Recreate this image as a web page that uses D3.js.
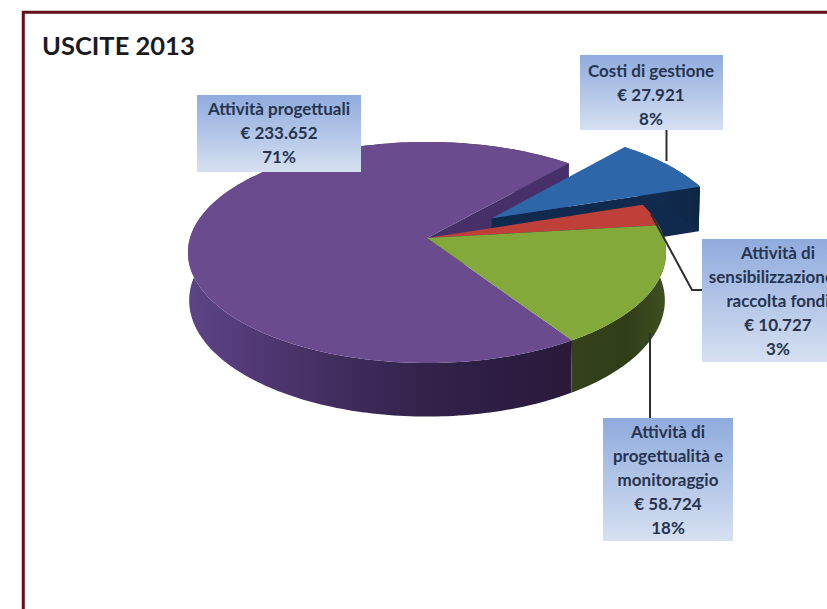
<!DOCTYPE html>
<html>
<head>
<meta charset="utf-8">
<script src="https://cdnjs.cloudflare.com/ajax/libs/d3/7.9.0/d3.min.js"></script>
<style>
html, body { margin: 0; padding: 0; background: #fff; overflow: hidden; }
svg { display: block; }
</style>
</head>
<body>
<div id="chart"></div>
<script>
// Expenses for 2013, clockwise from the large slice
const categories = ["Attività progettuali", "Costi di gestione", "Attività di sensibilizzazione e raccolta fondi", "Attività di progettualità e monitoraggio"];
const amounts = [233652, 27921, 10727, 58724];
const amountLabels = ["€ 233.652", "€ 27.921", "€ 10.727", "€ 58.724"];
const percentLabels = ["71%", "8%", "3%", "18%"];
const labelLines = [
  ["Attività progettuali"],
  ["Costi di gestione"],
  ["Attività di", "sensibilizzazione e", "raccolta fondi"],
  ["Attività di", "progettualità e", "monitoraggio"]
];
const explosion = [0, 0.336, 0, 0];

const faceColors = ["#6a4c8e", "#2d66a9", "#bf3f39", "#84a93b"];
const cutColors = ["#47306a", "#0f2a4c", "#6b1f1c", "#33421a"];

const width = 827, height = 609;
const svg = d3.select("#chart").append("svg").attr("width", width).attr("height", height);
const defs = svg.append("defs");

// Perspective model of the disc: u points right, v towards the viewer
const origin = { x: 427, y: 238 };
const persp = { a: 108.6, b: 237, k: -0.131, drop: 0.005, depth: 47.5 };
function project(u, v, lower) {
  const w = 1 + persp.k * v + (lower ? persp.drop : 0);
  return [origin.x + persp.b * u / w, origin.y + (persp.a * v + (lower ? persp.depth : 0)) / w];
}

// Slice angles: d3 measures from north, clockwise
const pie = d3.pie().sort(null).startAngle(147 * Math.PI / 180).endAngle((147 + 360) * Math.PI / 180);
const slices = pie(amounts).map((s, i) => {
  const mid = (s.startAngle + s.endAngle) / 2;
  return {
    i, start: s.startAngle, end: s.endAngle,
    ox: explosion[i] * Math.sin(mid),
    oy: -explosion[i] * Math.cos(mid)
  };
});

function rim(s, a, lower) {
  return project(s.ox + Math.sin(a), s.oy - Math.cos(a), lower);
}
function arcAngles(from, to) {
  const n = Math.max(2, Math.ceil(Math.abs(to - from) / 0.02));
  return d3.range(n + 1).map(j => from + (to - from) * j / n);
}
const line = d3.line();

function topFace(s) {
  const pts = [project(s.ox, s.oy, false)].concat(arcAngles(s.start, s.end).map(a => rim(s, a, false)));
  return line(pts) + "Z";
}
function outerWall(s, from, to) {
  const angles = arcAngles(from, to);
  const pts = angles.map(a => rim(s, a, false)).concat(angles.slice().reverse().map(a => rim(s, a, true)));
  return line(pts) + "Z";
}
function cutWall(s, a) {
  return line([
    project(s.ox, s.oy, false), rim(s, a, false),
    rim(s, a, true), project(s.ox, s.oy, true)
  ]) + "Z";
}

// Side shading
function hGradient(id, x1, x2, stops) {
  const g = defs.append("linearGradient").attr("id", id).attr("gradientUnits", "userSpaceOnUse")
    .attr("x1", x1).attr("x2", x2).attr("y1", 0).attr("y2", 0);
  stops.forEach(s => g.append("stop").attr("offset", s[0]).attr("stop-color", s[1]));
}
hGradient("wall0", 187, 573, [[0, "#5d4485"], [0.12, "#553c7b"], [0.3, "#483267"], [0.45, "#3d2a59"], [0.62, "#33234b"], [0.8, "#2c1d42"], [1, "#291a3b"]]);
hGradient("wall1", 620, 700, [[0, "#143054"], [1, "#0e2645"]]);
hGradient("wall3", 573, 665, [[0, "#34421b"], [0.6, "#303e18"], [1, "#3f5020"]]);

const lg = defs.append("linearGradient").attr("id", "labelFill").attr("x1", 0).attr("x2", 0).attr("y1", 0).attr("y2", 1);
lg.append("stop").attr("offset", 0).attr("stop-color", "#8fabdd");
lg.append("stop").attr("offset", 1).attr("stop-color", "#d6e0f1");

// Frame: only the top and left rules are in view
svg.append("path").attr("d", `M23.3,${height}V12.3H${width}`)
  .attr("fill", "none").attr("stroke", "#640f16").attr("stroke-width", 3);

svg.append("text").attr("x", 42).attr("y", 55)
  .attr("font-family", "Lato, 'Open Sans', sans-serif").attr("font-weight", 700)
  .attr("font-size", 25.5).attr("fill", "#1b1b1f").text("USCITE 2013");

// Painter's order: back walls first, then faces from back to front
const [purple, blue, red, green] = slices;
const pie3d = svg.append("g");
pie3d.append("path").attr("d", outerWall(purple, purple.start, purple.end)).attr("fill", "url(#wall0)");
pie3d.append("path").attr("d", cutWall(purple, purple.end)).attr("fill", cutColors[0]);
pie3d.append("path").attr("d", topFace(purple)).attr("fill", faceColors[0]);
pie3d.append("path").attr("d", cutWall(blue, blue.end)).attr("fill", cutColors[1]);
pie3d.append("path").attr("d", outerWall(blue, blue.start, blue.end)).attr("fill", "url(#wall1)");
pie3d.append("path").attr("d", topFace(blue)).attr("fill", faceColors[1]);
pie3d.append("path").attr("d", outerWall(red, red.start, red.end)).attr("fill", cutColors[2]);
pie3d.append("path").attr("d", outerWall(green, green.start, green.end)).attr("fill", "url(#wall3)");
pie3d.append("path").attr("d", topFace(red)).attr("fill", faceColors[2]);
pie3d.append("path").attr("d", topFace(green)).attr("fill", faceColors[3]);

// Leader lines
const leaders = [
  null,
  [[666.5, 130], [666.5, 161]],
  [[651, 214], [692, 290], [703, 290]],
  [[650, 333], [650, 418]]
];
leaders.forEach(pts => {
  if (pts) svg.append("path").attr("d", d3.line()(pts)).attr("fill", "none")
    .attr("stroke", "#2e2e2e").attr("stroke-width", 2);
});

// Callout boxes
const boxes = [
  { x: 197, y: 95, w: 164, h: 77, cx: 279, first: 115 },
  { x: 580, y: 55, w: 143, h: 75, cx: 651, first: 77 },
  { x: 702, y: 239, w: 152, h: 123, cx: 778, first: 259 },
  { x: 603, y: 418, w: 130, h: 123, cx: 668, first: 438 }
];
boxes.forEach((b, i) => {
  svg.append("rect").attr("x", b.x).attr("y", b.y).attr("width", b.w).attr("height", b.h)
    .attr("fill", "url(#labelFill)");
  const rows = labelLines[i].concat([amountLabels[i], percentLabels[i]]);
  svg.append("text").attr("font-family", "Lato, 'Open Sans', sans-serif").attr("font-weight", 700)
    .attr("font-size", 17).attr("fill", "#26344f").attr("text-anchor", "middle")
    .selectAll("tspan").data(rows).join("tspan")
    .attr("x", b.cx).attr("y", (d, j) => b.first + j * 24).text(d => d);
});
</script>
</body>
</html>
